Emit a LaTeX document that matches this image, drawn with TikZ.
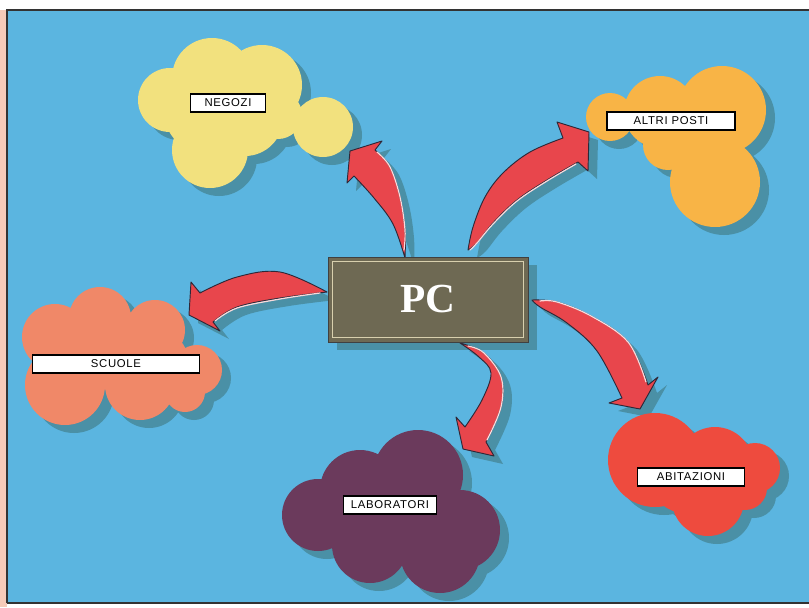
\documentclass[tikz,border=0pt]{standalone}
\usepackage{fontspec}
\newfontfamily\lblfont[LetterSpace=6]{Liberation Sans}
\newfontfamily\pcfont{Liberation Serif}
\definecolor{bgblue}{HTML}{5BB5E0}
\definecolor{shadowc}{HTML}{4A90A6}
\definecolor{pinkc}{HTML}{F6CBB9}
\definecolor{yellowc}{HTML}{F2E17E}
\definecolor{orangec}{HTML}{F8B446}
\definecolor{salmonc}{HTML}{F08868}
\definecolor{redc}{HTML}{EE4B3E}
\definecolor{plumc}{HTML}{6B3A5C}
\definecolor{arrred}{HTML}{E8464C}
\definecolor{arrline}{HTML}{2E2838}
\definecolor{pcfill}{HTML}{6E6953}
\definecolor{pcline}{HTML}{D8D0AE}
\def\cloudNeg{(170,100) circle (32) (212,78) circle (40) (262,85) circle (40) (323,127) circle (30) (210,150) circle (38) (245,118) circle (38) (200,115) circle (35) (278,115) circle (24)}
\def\cloudAlt{(610,117) circle (24) (660,112) circle (36) (722,110) circle (44) (715,182) circle (45) (668,145) circle (25) (700,140) circle (35)}
\def\cloudScu{(100,318) circle (31) (55,337) circle (33) (155,330) circle (30) (197,370) circle (25) (65,385) circle (40) (140,385) circle (35) (185,392) circle (20) (110,355) circle (35) (160,360) circle (28)}
\def\cloudAbi{(655,460) circle (47) (715,465) circle (38) (755,468) circle (25) (708,500) circle (36) (745,488) circle (22) (685,478) circle (35)}
\def\cloudLab{(418,475) circle (45) (360,490) circle (40) (318,515) circle (36) (460,530) circle (40) (370,545) circle (38) (440,553) circle (40) (400,520) circle (40)}
\def\arrNeg{plot[smooth,tension=0.6] coordinates {(405,258) (405,230) (400,197) (390,167) (375,150)} -- (382,141) -- (350,151) -- (347,183) -- plot[smooth,tension=0.6] coordinates {(354,176) (374,198) (393,224) (405,258)} -- cycle}
\def\arrAlt{plot[smooth,tension=0.6] coordinates {(468,250) (473,227) (485,197) (503,173) (530,152) (563,138)} -- (557,122) -- (589,132) -- (588,171) -- plot[smooth,tension=0.6] coordinates {(578,162) (547,180) (517,200) (493,223) (477,243) (468,250)} -- cycle}
\def\arrScu{plot[smooth,tension=0.6] coordinates {(327,292) (280,272) (237,277) (200,293)} -- (191,282) -- (189,315) -- (220,331) -- plot[smooth,tension=0.6] coordinates {(213,322) (237,307) (280,298) (327,292)} -- cycle}
\def\arrLab{plot[smooth,tension=0.6] coordinates {(460,343) (484,353) (501,377) (501,407) (486,442)} -- (494,456) -- (463,449) -- (456,417) -- plot[smooth,tension=0.6] coordinates {(465,427) (482,400) (491,373) (479,357) (460,343)} -- cycle}
\def\arrAbi{plot[smooth,tension=0.6] coordinates {(532,300) (557,302) (591,316) (628,342) (648,385)} -- (658,377) -- (640,409) -- (609,403) -- plot[smooth,tension=0.6] coordinates {(622,398) (597,351) (567,323) (540,307) (532,300)} -- cycle}
\begin{document}
\begin{tikzpicture}[x=0.75pt,y=-0.75pt,
  lbl/.style={draw=black,line width=0.9pt,fill=white,font=\lblfont\fontsize{8.5}{9}\selectfont,inner sep=0pt,minimum height=13.5pt},
  pcbox/.style={draw=black!75,line width=0.6pt,fill=pcfill,minimum width=150pt,minimum height=63.75pt,inner sep=0pt,text=white,font=\pcfont\bfseries\fontsize{31}{31}\selectfont},
  arr/.style={fill=arrred,draw=arrline,line width=0.7pt,line join=round},
  hilite/.style={draw=white!80!arrred,line width=0.9pt,line cap=round},
  shad/.style={fill=shadowc},
  frame/.style={draw=black!80,line width=1.1pt}]
\useasboundingbox (0,0) rectangle (809,607);
% background
\fill[white] (0,0) rectangle (809,607);
\fill[pinkc] (0,10) rectangle (7,607);
\fill[bgblue] (7,10) rectangle (809,603);
\draw[frame] (7,603) -- (7,10) -- (809,10);
\draw[frame] (7,603) -- (809,603);
% shadows
\begin{scope}[shift={(9,8)}]
\fill[shad] \cloudNeg;
\fill[shad] \cloudAlt;
\fill[shad] \cloudScu;
\fill[shad] \cloudAbi;
\fill[shad] \cloudLab;
\fill[shad] \arrNeg;
\fill[shad] \arrAlt;
\fill[shad] \arrScu;
\fill[shad] \arrLab;
\fill[shad] \arrAbi;
\fill[shad] (328,257) rectangle (528,342);
\end{scope}
% clouds
\fill[yellowc] \cloudNeg;
\fill[orangec] \cloudAlt;
\fill[salmonc] \cloudScu;
\fill[redc] \cloudAbi;
\fill[plumc] \cloudLab;
% arrows
\path[arr] \arrNeg;
\path[arr] \arrAlt;
\path[arr] \arrScu;
\path[arr] \arrLab;
\path[arr] \arrAbi;
\draw[hilite] plot[smooth,tension=0.6] coordinates {(404,250) (405,230) (400,197) (390,167) (377,152)};
\draw[hilite] plot[smooth,tension=0.6] coordinates {(576,164) (547,181) (517,201) (493,224) (477,243) (470,250)};
\draw[hilite] plot[smooth,tension=0.6] coordinates {(215,321) (237,308) (280,299) (320,293)};
\draw[hilite] plot[smooth,tension=0.6] coordinates {(468,346) (484,353) (501,377) (501,407) (487,440)};
\draw[hilite] plot[smooth,tension=0.6] coordinates {(540,301) (557,302) (591,316) (628,342) (646,382)};
% PC box
\node[pcbox] (pc) at (428,299.5) {PC};
\draw[pcline,line width=0.9pt] ([shift={(5,5)}]pc.north west) rectangle ([shift={(-5,-5)}]pc.south east);
% labels
\node[lbl,minimum width=56pt] (negozi) at (228,103) {NEGOZI};
\node[lbl,minimum width=96pt] (altri) at (671,121) {ALTRI POSTI};
\node[lbl,minimum width=125pt] (scuole) at (116,364) {SCUOLE};
\node[lbl,minimum width=80pt] (abitazioni) at (691,477) {ABITAZIONI};
\node[lbl,minimum width=70pt] (laboratori) at (390,505) {LABORATORI};
\end{tikzpicture}
\end{document}
